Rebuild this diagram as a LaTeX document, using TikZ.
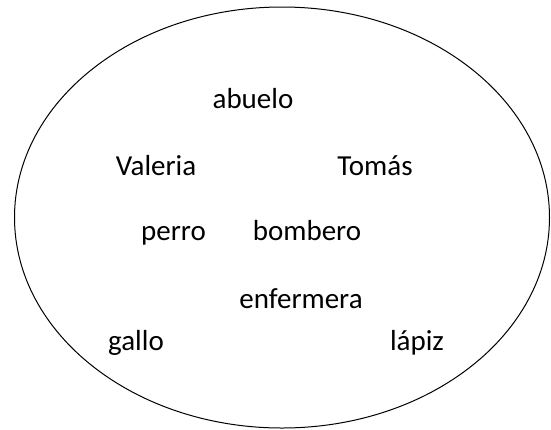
\documentclass[tikz,border=0pt]{standalone}
\usepackage{fontspec}
\setmainfont{Carlito}
\usetikzlibrary{shapes.geometric}

\begin{document}
\begin{tikzpicture}[x=1pt,y=-1pt,
 word/.style={anchor=base,inner sep=0pt,font=\fontsize{29}{34}\selectfont},
 set node/.style={ellipse,draw,line width=1pt,inner sep=0pt,
   minimum width=535pt,minimum height=421pt}]

  \useasboundingbox (0,0) rectangle (551,429);

  \node[set node] (U) at (282,217.5) {};

  \node[word] (abuelo)    at (253,108) {abuelo};
  \node[word] (valeria)   at (156,175) {Valeria};
  \node[word] (tomas)     at (375,175) {Tomás};
  \node[word] (perro)     at (173.5,240) {perro};
  \node[word] (bombero)   at (307,240) {bombero};
  \node[word] (enfermera) at (301,308) {enfermera};
  \node[word] (gallo)     at (136,350) {gallo};
  \node[word] (lapiz)     at (417,350) {lápiz};

\end{tikzpicture}
\end{document}
